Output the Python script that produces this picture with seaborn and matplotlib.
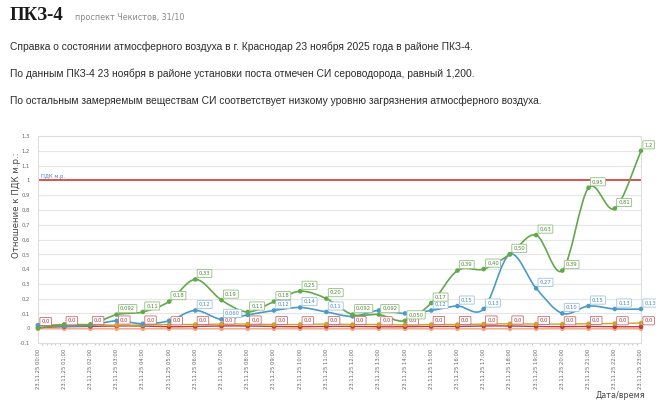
import numpy as np
import pandas as pd
import seaborn as sns
import matplotlib.pyplot as plt
from matplotlib.path import Path
from matplotlib.patches import PathPatch
from matplotlib.ticker import MultipleLocator, FixedLocator, FuncFormatter

hours = [f"23.11.25 {h:02d}:00" for h in range(24)]

# сероводород
h2s = [0.0, 0.025, 0.025, 0.092, 0.11, 0.18, 0.33, 0.19, 0.11, 0.18, 0.25, 0.20,
       0.092, 0.092, 0.050, 0.17, 0.39, 0.40, 0.50, 0.63, 0.39, 0.95, 0.81, 1.2]
h2s_lbl = [None, None, None, "0,092", "0,11", "0,18", "0,33", "0,19", "0,11", "0,18", "0,25", "0,20",
           "0,092", "0,092", "0,050", "0,17", "0,39", "0,40", "0,50", "0,63", "0,39", "0,95", "0,81", "1,2"]
# второе вещество
blue = [0.02, 0.015, 0.02, 0.05, 0.03, 0.05, 0.12, 0.06, 0.09, 0.12, 0.14, 0.11,
        0.08, 0.12, 0.10, 0.12, 0.15, 0.13, 0.50, 0.27, 0.10, 0.15, 0.13, 0.13]
blue_lbl = [None, None, None, None, None, None, "0,12", "0,060", None, "0,12", "0,14", "0,11",
            None, None, None, "0,12", "0,15", "0,13", None, "0,27", "0,10", "0,15", "0,13", "0,13"]
yellow = [0.02, 0.025, 0.025, 0.02, 0.022, 0.025, 0.025, 0.028, 0.028, 0.025, 0.025, 0.028,
          0.025, 0.025, 0.022, 0.025, 0.025, 0.028, 0.03, 0.028, 0.028, 0.03, 0.032, 0.035]
red = [0.005, 0.01, 0.012, 0.015, 0.015, 0.01, 0.012, 0.015, 0.015, 0.012, 0.01, 0.012,
       0.012, 0.01, 0.01, 0.012, 0.012, 0.015, 0.015, 0.012, 0.01, 0.012, 0.01, 0.01]
red_lbl = ["0,0"] * 24
salmon = [-0.004] * 24

pdk = 1.0

colors = {"h2s": "#62a84c", "blue": "#4b9bc6", "yellow": "#d2a02c",
          "red": "#c0393b", "salmon": "#f0a685"}


def smooth(ax, ys, color, lw=1.2, z=3):
    # кривая Катмулла-Рома через точки как сегменты Безье
    pts = np.column_stack([np.arange(len(ys)), ys]).astype(float)
    verts = [pts[0]]
    codes = [Path.MOVETO]
    for i in range(len(pts) - 1):
        p0 = pts[i - 1] if i > 0 else pts[i]
        p1, p2 = pts[i], pts[i + 1]
        p3 = pts[i + 2] if i + 2 < len(pts) else pts[i + 1]
        verts += [p1 + (p2 - p0) / 6, p2 - (p3 - p1) / 6, p2]
        codes += [Path.CURVE4] * 3
    ax.add_patch(PathPatch(Path(verts, codes), fc="none", ec=color, lw=lw, zorder=z))


def labels(ax, ys, lbls, color, tcolor):
    for i, (v, t) in enumerate(zip(ys, lbls)):
        if t is None:
            continue
        ax.annotate(t, (i, v), xytext=(2.5, 2.5), textcoords="offset points",
                    fontsize=3.8, color=tcolor, ha="left", va="bottom", zorder=6,
                    annotation_clip=False,
                    bbox=dict(boxstyle="round,pad=0.3,rounding_size=0.15", fc="white",
                              ec=color, lw=0.6))


sns.set_theme(style="white")
plt.rcParams["font.family"] = ["DejaVu Sans"]

fig = plt.figure(figsize=(6.56, 4.03), dpi=100)
ax = fig.add_axes([38 / 656, 1 - 343 / 403, (641 - 38) / 656, (343 - 136) / 403])

ax.axhline(pdk, color="#d9534f", lw=1.4, zorder=2)
ax.text(0.1, pdk + 0.012, "ПДК м.р.", fontsize=3.8, color="#5a7fa8", va="bottom")

series = [("salmon", salmon), ("red", red), ("yellow", yellow), ("blue", blue), ("h2s", h2s)]
rows = []
for name, ys in series:
    smooth(ax, ys, colors[name], lw=1.0 if name in ("salmon", "red", "yellow") else 1.2)
    for i, v in enumerate(ys):
        rows.append({"t": i, "v": v, "s": name})
df = pd.DataFrame(rows)
sns.scatterplot(data=df, x="t", y="v", hue="s", palette=colors, s=11, linewidth=0,
                legend=False, ax=ax, zorder=4, clip_on=False)

labels(ax, red, red_lbl, "#c96a6e", "#a23a3d")
labels(ax, blue, blue_lbl, "#9cc4de", "#4b8ab4")
labels(ax, h2s, h2s_lbl, "#8fc07a", "#4f8a3c")

ax.set_xlim(0, 23)
ax.set_ylim(-0.1, 1.3)
ax.xaxis.set_major_locator(FixedLocator(range(24)))
ax.set_xticklabels(hours, rotation=90, fontsize=3.8, color="#666666")
ax.xaxis.set_minor_locator(MultipleLocator(1 / 6))
ax.yaxis.set_major_locator(MultipleLocator(0.1))
ax.yaxis.set_major_formatter(FuncFormatter(
    lambda v, p: "0" if abs(v) < 1e-9 else (f"{v:.1f}".rstrip("0").rstrip(".")).replace(".", ",")))
ax.tick_params(axis="y", labelsize=3.8, labelcolor="#666666", length=0, pad=6)
ax.tick_params(axis="x", which="major", length=2, color="#cccccc", pad=2)
ax.tick_params(axis="x", which="minor", length=1.2, color="#cccccc", bottom=True)
ax.grid(axis="y", color="#e6e6e6", lw=0.8)
ax.set_xlabel("")
ax.set_ylabel("")
for s in ax.spines.values():
    s.set_color("#dddddd")
    s.set_linewidth(0.8)

fig.text(17 / 656, 1 - 205 / 403, "Отношение к ПДК м.р.:", rotation=90, fontsize=6.2,
         color="#444444", ha="center", va="center")
fig.text(645 / 656, 1 - 396 / 403, "Дата/время", fontsize=5.8, color="#444444",
         ha="right", va="center")

fig.text(10 / 656, 1 - 16 / 403, "ПКЗ-4", fontsize=13.5, fontweight="bold",
         family="Liberation Serif", color="#1a1a1a", va="center")
fig.text(75 / 656, 1 - 17 / 403, "проспект Чекистов, 31/10", fontsize=5.8,
         color="#888888", va="center")
body = ["Справка о состоянии атмосферного воздуха в г. Краснодар 23 ноября 2025 года в районе ПКЗ-4.",
        "По данным ПКЗ-4 23 ноября в районе установки поста отмечен СИ сероводорода, равный 1,200.",
        "По остальным замеряемым веществам СИ соответствует низкому уровню загрязнения атмосферного воздуха."]
for k, line in enumerate(body):
    fig.text(10 / 656, 1 - (47 + 27 * k) / 403, line, fontsize=7.4, family="Liberation Sans",
             color="#2b2b2b", va="center")

fig.savefig("out.png", dpi=100)
